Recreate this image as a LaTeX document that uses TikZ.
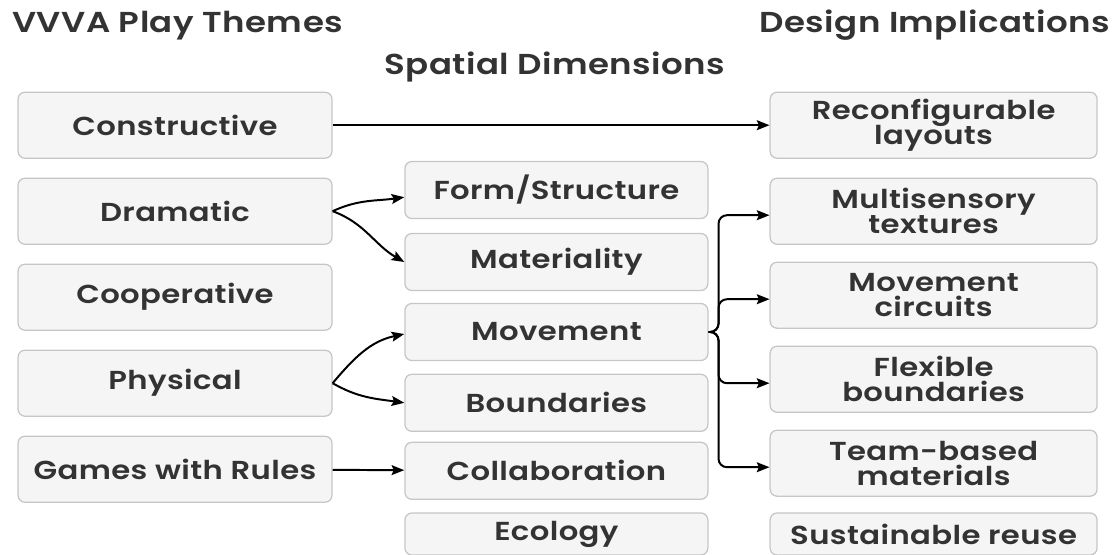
\documentclass[tikz,border=0pt]{standalone}
\usepackage{fontspec}
\setmainfont{Poppins}[UprightFont=*-Medium, BoldFont=*-SemiBold, FakeStretch=1.18, LetterSpace=1.5]
\usetikzlibrary{arrows.meta}
\setlength{\lineskiplimit}{-20pt}

\definecolor{boxfill}{HTML}{F5F5F5}
\definecolor{boxline}{HTML}{C6C6C6}
\definecolor{ink}{HTML}{333333}

\tikzset{
	card/.style={draw=boxline, fill=boxfill, line width=0.9pt, rounded corners=5pt,
		text=ink, align=center, inner sep=0pt, font=\bfseries\fontsize{18.5}{17.6}\selectfont},
	theme/.style={card, minimum width=7.85cm, minimum height=1.65cm},
	dim/.style={card, minimum width=7.575cm, minimum height=1.425cm},
	impl/.style={card, minimum width=8.175cm, minimum height=1.65cm},
	stub/.style={minimum height=1.05cm},
	heading/.style={text=ink, inner sep=0pt, font=\bfseries\fontsize{20.5}{24}\selectfont},
	arr/.style={-{Stealth[length=9pt,width=7pt,inset=1.5pt]}, line width=1.4pt, black},
}

\begin{document}
\begin{tikzpicture}[scale=1.0]
	\path[use as bounding box] (0,0) rectangle (28,-13.85);
	\clip (0,0) rectangle (28,-13.85);
	% Headings
	\node[heading, anchor=west] (hthemes) at (0.3,-0.63) {VVVA Play Themes};
	\node[heading] (hdims) at (13.875,-1.68) {Spatial Dimensions};
	\node[heading, anchor=east] (himpl) at (27.75,-0.63) {Design Implications};
	% Play themes
	\node[theme] (constr) at (4.375,-3.13) {Constructive};
	\node[theme] (drama) at (4.375,-5.28) {Dramatic};
	\node[theme] (coop) at (4.375,-7.43) {Cooperative};
	\node[theme] (phys) at (4.375,-9.58) {Physical};
	\node[theme] (games) at (4.375,-11.73) {Games with Rules};
	% Spatial dimensions
	\node[dim] (form) at (13.91,-4.75) {Form/Structure};
	\node[dim] (mater) at (13.91,-6.55) {Materiality};
	\node[dim] (move) at (13.91,-8.3) {Movement};
	\node[dim] (bound) at (13.91,-10.07) {Boundaries};
	\node[dim] (collab) at (13.91,-11.77) {Collaboration};
	\node[dim, stub] (eco) at (13.91,-13.35) {Ecology};
	% Design implications
	\node[impl] (reconf) at (23.34,-3.13) {Reconfigurable\\layouts};
	\node[impl] (multi) at (23.34,-5.28) {Multisensory\\textures};
	\node[impl] (circ) at (23.34,-7.38) {Movement\\circuits};
	\node[impl] (flex) at (23.34,-9.48) {Flexible\\boundaries};
	\node[impl] (team) at (23.34,-11.58) {Team-based\\materials};
	\node[impl, stub] (reuse) at (23.34,-13.35) {Sustainable reuse};
	% Themes -> dimensions
	\draw[arr] (constr) -- (reconf);
	\draw[arr] (drama.east) to[out=25,in=188] ([yshift=-0.18cm]form.west);
	\draw[arr] (drama.east) to[out=-20,in=150] (mater.west);
	\draw[arr] (phys.east) to[out=50,in=192] ([yshift=-0.05cm]move.west);
	\draw[arr] (phys.east) to[out=-30,in=172] (bound.west);
	\draw[arr] (games) -- (collab);
	% Movement -> implications
	\foreach \t in {multi,circ,flex,team}
		\draw[arr, rounded corners=6pt] (move.east) -- ++(0.25,0) |- ([yshift=-0.1cm]\t.west);
\end{tikzpicture}
\end{document}
